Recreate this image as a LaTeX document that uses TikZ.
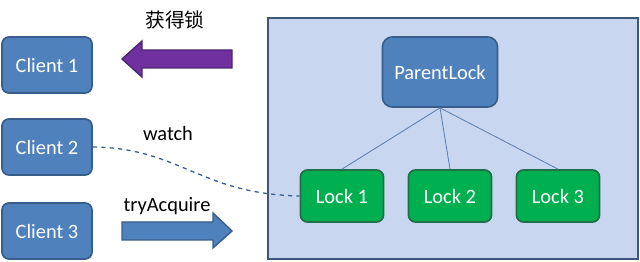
\documentclass[tikz,border=0pt]{standalone}
\usepackage{fontspec}
\setmainfont{Carlito}
\newfontfamily\cjk{Noto Sans CJK SC}
\usepackage{xcolor}
\usepackage{tikz}
\usetikzlibrary{arrows.meta}

\definecolor{clientblue}{HTML}{4F81BD}
\definecolor{clientedge}{HTML}{385D8A}
\definecolor{lockgreen}{HTML}{00B050}
\definecolor{lockedge}{HTML}{22704A}
\definecolor{groupfill}{HTML}{C8D7EF}
\definecolor{groupedge}{HTML}{3E5778}
\definecolor{getpurple}{HTML}{7030A0}
\definecolor{getedge}{HTML}{4A2870}
\definecolor{linkblue}{HTML}{5F7FB0}

\begin{document}
\begin{tikzpicture}[x=0.025cm, y=-0.025cm,
  client/.style={draw=clientedge, fill=clientblue, line width=1.2pt, rounded corners=5pt,
                 minimum width=2.25cm, minimum height=1.4cm, text=white, font=\fontsize{14.5}{16}\selectfont},
  lockbox/.style={draw=lockedge, fill=lockgreen, line width=1.2pt, rounded corners=5pt,
                  minimum width=2.075cm, minimum height=1.3cm, text=white, font=\fontsize{14.5}{16}\selectfont},
  parent/.style={client, minimum width=2.875cm, minimum height=1.75cm, rounded corners=7pt},
  blockarr/.style={line width=1pt, line join=miter},
  lbl/.style={font=\fontsize{14.5}{16}\selectfont, text=black},
  link/.style={draw=linkblue, line width=0.6pt}
]
\useasboundingbox (0,0) rectangle (640,262);

%% Group box
\node[draw=groupedge, fill=groupfill, line width=1.2pt, minimum width=9.25cm, minimum height=6.025cm]
  (group) at (453,138.5) {};

%% Clients
\node[client] (c1) at (47,65)  {Client 1};
\node[client] (c2) at (47,147) {Client 2};
\node[client] (c3) at (47,231) {Client 3};

%% Locks
\node[parent]  (pl) at (440,72)  {ParentLock};
\node[lockbox] (l1) at (342,196) {Lock 1};
\node[lockbox] (l2) at (450,196) {Lock 2};
\node[lockbox] (l3) at (558,196) {Lock 3};

\draw[link] (pl.south) -- (l1.north);
\draw[link] (pl.south) -- (l2.north);
\draw[link] (pl.south) -- (l3.north);

%% Block arrows
\draw[blockarr, draw=getedge, fill=getpurple]
  (122,59) -- (142,41) -- (142,50) -- (232,50) -- (232,68) -- (142,68) -- (142,77) -- cycle;
\draw[blockarr, draw=clientedge, fill=clientblue]
  (232,231) -- (213,248) -- (213,240) -- (122,240) -- (122,222) -- (213,222) -- (213,213) -- cycle;

%% Labels
\node[lbl, font=\cjk\fontsize{14}{16}\selectfont] (get) at (175,20) {获得锁};
\node[lbl] (watch) at (168,133) {watch};
\node[lbl] (try)   at (167,206) {tryAcquire};

%% Watch line
\draw[clientedge, line width=0.9pt, dashed]
  (c2.east) .. controls (180,148) and (200,194) .. (l1.west);

\end{tikzpicture}
\end{document}
